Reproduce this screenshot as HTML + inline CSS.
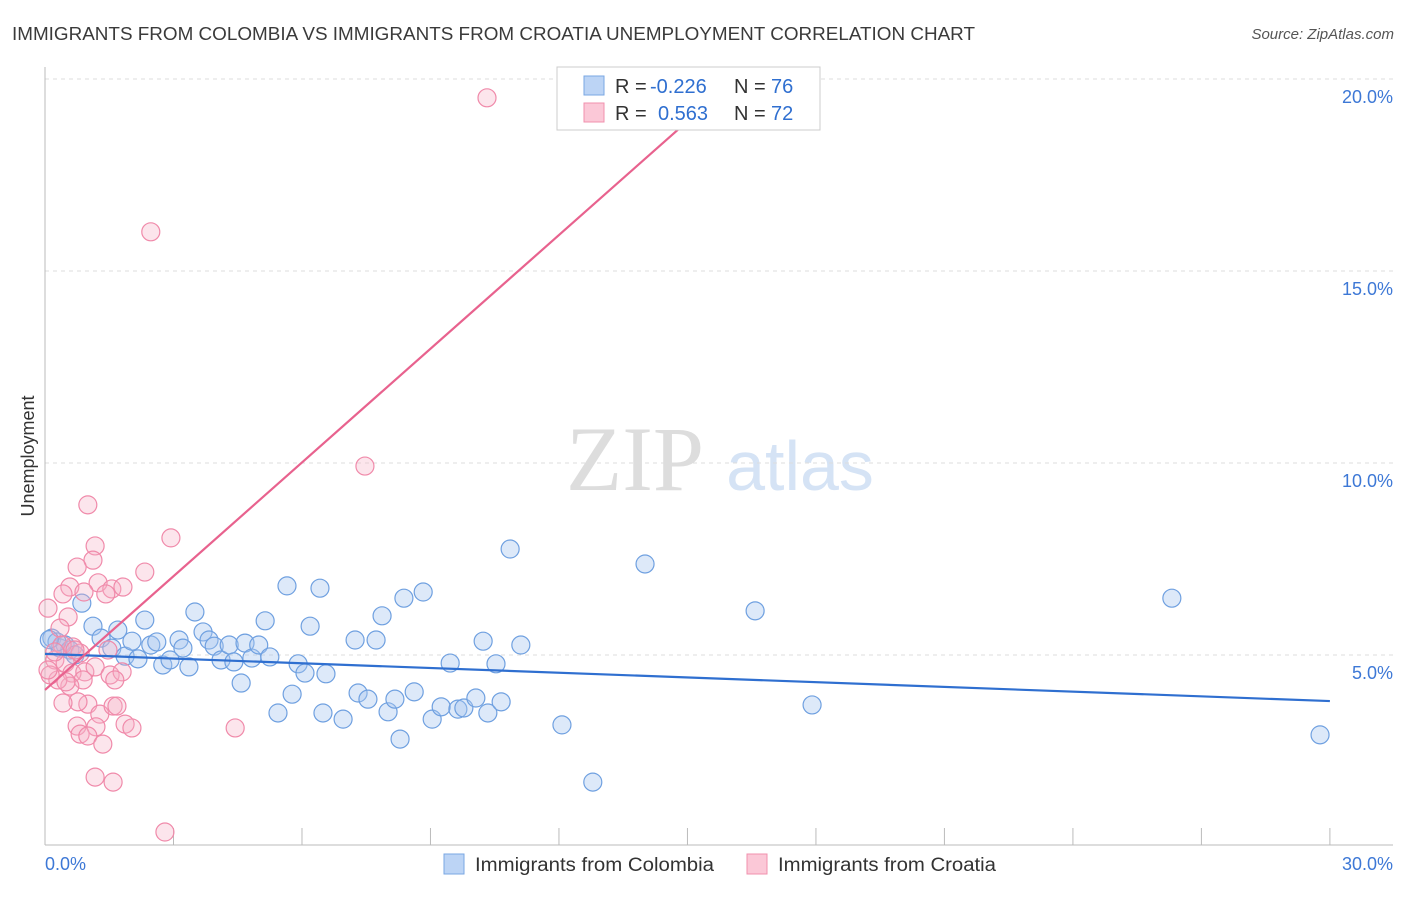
<!DOCTYPE html>
<html><head><meta charset="utf-8"><style>
body{margin:0;background:#fff;font-family:"Liberation Sans",sans-serif}
</style></head><body>
<svg id="chart" width="1406" height="892" xmlns="http://www.w3.org/2000/svg" font-family="Liberation Sans, sans-serif">
<text x="12" y="40" font-size="18" fill="#3a3a3a" textLength="963" lengthAdjust="spacingAndGlyphs">IMMIGRANTS FROM COLOMBIA VS IMMIGRANTS FROM CROATIA UNEMPLOYMENT CORRELATION CHART</text>
<text x="1394" y="39" font-size="15" fill="#555" text-anchor="end" font-style="italic">Source: ZipAtlas.com</text>
<g>
<text x="635" y="490" font-size="92" fill="#ddd" text-anchor="middle" font-family="Liberation Serif, serif">ZIP</text>
<text x="800" y="490" font-size="70" fill="#d5e3f5" text-anchor="middle">atlas</text>
</g>
<g id="grid"></g>
<g id="axes"></g>
<g id="marks"></g>
<text transform="translate(34,456) rotate(-90)" font-size="18" fill="#333" text-anchor="middle">Unemployment</text>
<g>
<rect x="557" y="67" width="263" height="63" fill="#fff" stroke="#ccc"/>
<rect x="584" y="76" width="20" height="19" fill="#bcd4f5" stroke="#7aa7e3"/>
<rect x="584" y="103" width="20" height="19" fill="#fbc8d7" stroke="#f090ae"/>
<text x="615" y="93" font-size="20" fill="#333">R = <tspan fill="#2f6fd0" x="650">-0.226</tspan></text>
<text x="734" y="93" font-size="20" fill="#333">N = <tspan fill="#2f6fd0" x="771">76</tspan></text>
<text x="615" y="120" font-size="20" fill="#333">R = <tspan fill="#2f6fd0" x="658">0.563</tspan></text>
<text x="734" y="120" font-size="20" fill="#333">N = <tspan fill="#2f6fd0" x="771">72</tspan></text>
</g>
<g>
<rect x="444" y="854" width="20" height="20" fill="#bcd4f5" stroke="#7aa7e3"/>
<text x="475" y="871" font-size="19" fill="#333" textLength="239" lengthAdjust="spacingAndGlyphs">Immigrants from Colombia</text>
<rect x="747" y="854" width="20" height="20" fill="#fbc8d7" stroke="#f090ae"/>
<text x="778" y="871" font-size="19" fill="#333" textLength="218" lengthAdjust="spacingAndGlyphs">Immigrants from Croatia</text>
</g>
</svg>
<script>
const yTicks=[5,10,15,20];
const yTickLabels=["5.0%","10.0%","15.0%","20.0%"];
const xTicks=[0,3,6,9,12,15,18,21,24,27,30];
const colombiaX=[0.86,1.12,1.31,1.56,1.70,1.87,2.03,2.17,2.33,2.47,2.61,2.75,2.92,3.13,3.22,3.36,3.50,3.69,3.83,3.95,4.11,4.30,4.41,4.58,4.67,4.83,4.99,5.14,5.25,5.44,5.65,5.77,5.91,6.07,6.19,6.42,6.49,6.56,6.96,7.24,7.31,7.54,7.73,7.87,8.01,8.17,8.29,8.38,8.62,8.83,9.04,9.25,9.46,9.64,9.78,10.06,10.23,10.34,10.53,10.65,10.86,11.11,12.07,12.79,14.01,16.58,17.91,26.31,29.77,0.16,0.35,0.47,0.58,0.70,0.28,0.10];
const colombiaY=[6.35,5.75,5.44,5.18,5.65,4.97,5.36,4.90,5.91,5.26,5.34,4.74,4.87,5.39,5.18,4.69,6.12,5.60,5.39,5.23,4.87,5.26,4.82,4.27,5.31,4.92,5.26,5.89,4.95,3.49,6.80,3.98,4.77,4.53,5.75,6.74,3.49,4.51,3.33,5.39,4.01,3.85,5.39,6.02,3.52,3.85,2.81,6.48,4.04,6.64,3.33,3.65,4.79,3.59,3.62,3.88,5.36,3.49,4.77,3.78,7.76,5.26,3.18,1.69,7.37,6.15,3.70,6.48,2.92,5.44,5.18,5.26,5.13,5.00,5.34,5.40];
const croatiaX=[10.32,2.47,7.47,1.00,2.94,1.17,2.33,1.12,0.75,0.58,1.24,1.56,1.82,0.91,0.42,1.42,0.07,0.54,0.35,0.65,0.82,0.23,0.47,0.63,0.93,1.17,1.52,1.80,0.89,0.58,0.30,0.12,1.00,1.28,1.59,1.68,0.77,0.42,1.19,0.75,0.82,1.00,1.87,2.03,1.35,4.44,1.17,1.59,2.80,0.40,0.23,0.07,0.49,0.70,1.47,1.63];
const croatiaY=[19.51,16.02,9.92,8.91,8.05,7.84,7.16,7.47,7.29,6.77,6.88,6.72,6.77,6.64,6.59,6.59,6.22,5.99,5.70,5.21,5.05,4.87,4.79,4.53,4.56,4.69,4.48,4.56,4.35,4.19,4.35,4.48,3.72,3.46,3.67,3.67,3.78,3.75,3.13,3.15,2.94,2.89,3.20,3.10,2.68,3.10,1.82,1.69,0.39,5.26,5.08,4.61,4.30,5.13,5.13,4.35];
const colombiaTrend=[[0,5.03],[30,3.80]];
const croatiaTrend=[[0,4.09],[14.9,18.8]];
const NS="http://www.w3.org/2000/svg";
const sx=v=>45+v*42.83, sy=v=>847-v*38.4;
function mk(tag,attrs,parent){const e=document.createElementNS(NS,tag);for(const k in attrs)e.setAttribute(k,attrs[k]);parent.appendChild(e);return e;}
const grid=document.getElementById('grid'),axes=document.getElementById('axes'),marks=document.getElementById('marks');
yTicks.forEach((t,i)=>{
 const l=mk('line',{x1:45,x2:1393,y1:sy(t),y2:sy(t),stroke:'#ddd','stroke-dasharray':'4,4'},grid);
 
 
 const tx=mk('text',{x:1393,y:sy(t)+24,'font-size':18,fill:'#3d78d6','text-anchor':'end'},axes);
 tx.textContent=yTickLabels[i];
 
 
});
const ax=mk('line',{x1:45,x2:1393,y1:845,y2:845,stroke:'#bbb'},axes);


const ay=mk('line',{x1:45,x2:45,y1:67,y2:845,stroke:'#bbb'},axes);


xTicks.forEach(t=>{const l=mk('line',{x1:sx(t),x2:sx(t),y1:828,y2:845,stroke:'#bbb'},axes);
 
 });
[[0,'0.0%','start',45],[30,'30.0%','end',1393]].forEach(d=>{const tx=mk('text',{x:d[3],y:870,'font-size':18,fill:'#3d78d6','text-anchor':d[2]},axes);tx.textContent=d[1];
 
 });
colombiaX.forEach((x,i)=>{const c=mk('circle',{cx:sx(x),cy:sy(colombiaY[i]),r:9,fill:'rgba(165,198,240,0.38)',stroke:'#6fa0e0','stroke-width':1.2},marks);
 
 });
croatiaX.forEach((x,i)=>{const c=mk('circle',{cx:sx(x),cy:sy(croatiaY[i]),r:9,fill:'rgba(245,175,198,0.33)',stroke:'#f08aaa','stroke-width':1.2},marks);
 
 });
const t1=mk('line',{x1:sx(colombiaTrend[0][0]),y1:sy(colombiaTrend[0][1]),x2:sx(colombiaTrend[1][0]),y2:sy(colombiaTrend[1][1]),stroke:'#2f6fd0','stroke-width':2.2},marks);


const t2=mk('line',{x1:sx(croatiaTrend[0][0]),y1:sy(croatiaTrend[0][1]),x2:sx(croatiaTrend[1][0]),y2:sy(croatiaTrend[1][1]),stroke:'#e8628e','stroke-width':2.2},marks);


</script>
</body></html>
